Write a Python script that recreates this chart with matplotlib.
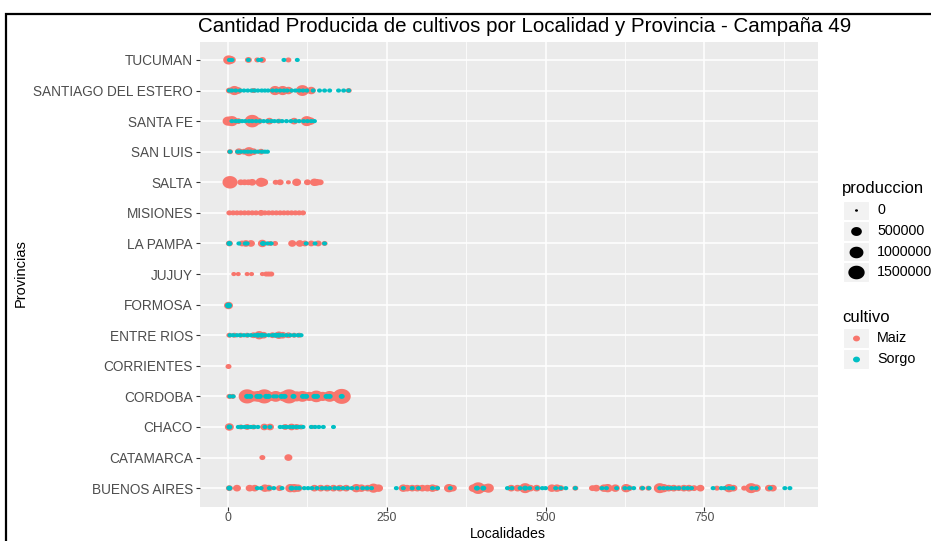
import numpy as np
import matplotlib.pyplot as plt
from matplotlib.patches import Rectangle

# Provinces (bottom to top, as ggplot orders a discrete y axis)
provincias = ["BUENOS AIRES", "CATAMARCA", "CHACO", "CORDOBA", "CORRIENTES",
              "ENTRE RIOS", "FORMOSA", "JUJUY", "LA PAMPA", "MISIONES",
              "SALTA", "SAN LUIS", "SANTA FE", "SANTIAGO DEL ESTERO", "TUCUMAN"]

# (localidad, produccion)
BUENOS_AIRES_MAIZ = [(2, 135000), (14, 211000), (34, 211000), (42, 211000), (58, 300000), (64, 211000),
                     (81, 135000), (98, 414000), (104, 414000), (110, 300000), (136, 211000), (146, 211000),
                     (156, 211000), (166, 211000), (176, 211000), (186, 211000), (202, 414000), (210, 300000),
                     (220, 211000), (229, 540000), (237, 300000), (276, 300000), (282, 211000), (290, 211000),
                     (298, 211000), (306, 211000), (314, 211000), (322, 300000), (328, 135000), (348, 414000),
                     (354, 211000), (386, 300000), (394, 1020000), (404, 300000), (410, 540000), (446, 211000),
                     (456, 211000), (468, 684000), (476, 211000), (486, 211000), (510, 300000), (518, 300000),
                     (524, 135000), (547, 76000), (574, 135000), (580, 211000), (592, 300000), (598, 414000),
                     (610, 300000), (627, 414000), (632, 135000), (652, 76000), (662, 76000), (680, 684000),
                     (686, 414000), (694, 211000), (702, 211000), (710, 135000), (718, 211000), (726, 211000),
                     (734, 135000), (744, 211000), (770, 76000), (789, 414000), (796, 211000), (813, 76000),
                     (824, 684000), (832, 300000), (852, 211000), (858, 211000)]
BUENOS_AIRES_SORGO = [(2, 76000), (46, 34000), (52, 34000), (65, 34000), (72, 34000), (85, 34000), (100, 76000),
                      (107, 34000), (112, 34000), (120, 34000), (126, 34000), (132, 34000), (140, 34000),
                      (148, 34000), (154, 34000), (160, 34000), (168, 34000), (174, 34000), (181, 34000),
                      (188, 34000), (195, 34000), (203, 34000), (212, 34000), (219, 34000), (226, 34000),
                      (265, 34000), (276, 34000), (290, 34000), (300, 34000), (322, 34000), (330, 34000),
                      (350, 34000), (392, 76000), (402, 76000), (440, 34000), (447, 34000), (460, 34000),
                      (468, 76000), (475, 34000), (487, 34000), (495, 34000), (500, 34000), (516, 34000),
                      (524, 34000), (532, 34000), (547, 34000), (589, 34000), (596, 34000), (612, 34000),
                      (625, 34000), (632, 34000), (639, 34000), (653, 34000), (663, 34000), (680, 34000),
                      (686, 34000), (692, 34000), (698, 34000), (704, 34000), (710, 34000), (718, 34000),
                      (724, 34000), (730, 34000), (764, 34000), (777, 34000), (782, 34000), (789, 34000),
                      (795, 34000), (825, 34000), (832, 34000), (854, 34000), (877, 34000), (885, 34000)]
CATAMARCA_MAIZ = [(54, 76000), (95, 211000)]
CATAMARCA_SORGO = []
CHACO_MAIZ = [(2, 304000), (20, 76000), (30, 135000), (40, 76000), (57, 211000), (66, 211000),
              (90, 135000), (100, 211000), (108, 135000), (115, 76000), (133, 34000)]
CHACO_SORGO = [(2, 76000), (16, 34000), (21, 34000), (26, 34000), (31, 34000), (36, 34000), (41, 34000),
               (47, 34000), (58, 34000), (66, 34000), (82, 34000), (87, 34000), (92, 34000), (97, 34000),
               (102, 34000), (107, 34000), (112, 34000), (118, 34000), (131, 34000), (137, 34000),
               (143, 34000), (150, 34000), (166, 34000)]
CORDOBA_MAIZ = [(2, 76000), (7, 76000), (30, 1650000), (40, 700000), (47, 844000), (57, 1650000),
                (66, 540000), (75, 844000), (88, 700000), (96, 1650000), (108, 700000), (117, 844000),
                (128, 540000), (139, 1020000), (149, 540000), (160, 844000), (170, 540000), (179, 1900000)]
CORDOBA_SORGO = [(3, 34000), (8, 34000), (30, 76000), (35, 76000), (46, 76000), (50, 76000), (60, 76000),
                 (64, 76000), (72, 34000), (76, 34000), (84, 76000), (89, 76000), (103, 76000),
                 (118, 76000), (123, 76000), (136, 76000), (140, 76000), (155, 76000), (160, 76000),
                 (179, 76000)]
CORRIENTES_MAIZ = [(0, 76000)]
CORRIENTES_SORGO = []
ENTRE_RIOS_MAIZ = [(2, 76000), (10, 76000), (20, 76000), (30, 76000), (40, 135000), (49, 414000),
                   (56, 211000), (70, 135000), (80, 304000), (86, 211000), (95, 135000), (104, 76000),
                   (112, 76000)]
ENTRE_RIOS_SORGO = [(3, 34000), (8, 34000), (14, 34000), (19, 34000), (25, 34000), (31, 34000),
                    (36, 34000), (42, 34000), (47, 76000), (53, 76000), (58, 34000), (64, 34000),
                    (70, 34000), (75, 76000), (80, 76000), (86, 34000), (92, 34000), (98, 34000),
                    (104, 34000), (110, 34000), (115, 34000)]
FORMOSA_MAIZ = [(0, 300000)]
FORMOSA_SORGO = [(0, 135000)]
JUJUY_MAIZ = [(9, 34000), (16, 34000), (30, 34000), (37, 34000), (54, 34000), (60, 76000),
              (64, 76000), (68, 76000)]
JUJUY_SORGO = []
LA_PAMPA_MAIZ = [(2, 135000), (22, 135000), (28, 211000), (36, 211000), (54, 300000), (66, 76000),
                 (74, 76000), (101, 211000), (113, 211000), (121, 135000), (131, 135000), (142, 135000),
                 (152, 76000)]
LA_PAMPA_SORGO = [(2, 76000), (17, 34000), (27, 34000), (30, 34000), (55, 76000), (62, 34000),
                  (68, 34000), (123, 34000), (137, 34000), (152, 34000)]
MISIONES_MAIZ = [(2, 76000), (8, 76000), (14, 76000), (20, 76000), (26, 76000), (32, 76000),
                 (38, 76000), (44, 76000), (52, 135000), (58, 76000), (64, 76000), (70, 76000),
                 (76, 76000), (82, 76000), (88, 76000), (94, 76000), (100, 76000), (106, 76000),
                 (112, 76000), (118, 76000)]
MISIONES_SORGO = []
SALTA_MAIZ = [(3, 1220000), (20, 135000), (26, 135000), (32, 135000), (38, 211000), (52, 540000),
              (56, 300000), (75, 76000), (82, 135000), (95, 34000), (108, 300000), (125, 135000),
              (136, 300000), (140, 211000), (145, 135000)]
SALTA_SORGO = []
SAN_LUIS_MAIZ = [(3, 76000), (17, 211000), (25, 135000), (33, 540000), (40, 211000), (52, 135000)]
SAN_LUIS_SORGO = [(3, 34000), (15, 34000), (20, 34000), (26, 34000), (31, 34000), (36, 34000),
                  (42, 34000), (47, 34000), (53, 34000), (58, 34000), (62, 34000)]
SANTA_FE_MAIZ = [(0, 540000), (6, 700000), (16, 135000), (38, 1220000), (48, 211000), (65, 211000),
                 (80, 76000), (104, 211000), (124, 684000), (130, 300000)]
SANTA_FE_SORGO = [(6, 34000), (12, 34000), (17, 34000), (22, 34000), (27, 34000), (33, 34000),
                  (38, 34000), (44, 34000), (50, 34000), (56, 34000), (62, 34000), (68, 34000),
                  (73, 34000), (79, 34000), (85, 34000), (92, 34000), (99, 34000), (106, 34000),
                  (112, 34000), (119, 34000), (125, 34000), (131, 34000), (136, 34000)]
SANTIAGO_MAIZ = [(2, 135000), (10, 540000), (16, 211000), (40, 76000), (74, 540000), (86, 540000),
                 (95, 304000), (117, 844000), (131, 304000), (190, 76000)]
SANTIAGO_SORGO = [(2, 34000), (6, 34000), (12, 34000), (19, 34000), (25, 34000), (31, 34000),
                  (37, 34000), (42, 34000), (47, 34000), (53, 34000), (58, 34000), (63, 34000),
                  (70, 34000), (76, 34000), (82, 34000), (88, 34000), (93, 34000), (100, 34000),
                  (106, 34000), (112, 34000), (118, 34000), (124, 34000), (134, 34000), (144, 34000),
                  (152, 34000), (160, 34000), (174, 34000), (182, 34000), (190, 34000)]
TUCUMAN_MAIZ = [(1, 540000), (5, 300000), (32, 135000), (46, 76000), (54, 135000), (95, 76000)]
TUCUMAN_SORGO = [(2, 34000), (6, 34000), (32, 34000), (48, 34000), (52, 20000), (88, 34000), (109, 34000)]

legend_breaks = [0, 500000, 1000000, 1500000]
cultivos = ["Maiz", "Sorgo"]
colores = {"Maiz": "#F8766D", "Sorgo": "#00BFC4"}

maiz = [BUENOS_AIRES_MAIZ, CATAMARCA_MAIZ, CHACO_MAIZ, CORDOBA_MAIZ, CORRIENTES_MAIZ, ENTRE_RIOS_MAIZ,
        FORMOSA_MAIZ, JUJUY_MAIZ, LA_PAMPA_MAIZ, MISIONES_MAIZ, SALTA_MAIZ, SAN_LUIS_MAIZ,
        SANTA_FE_MAIZ, SANTIAGO_MAIZ, TUCUMAN_MAIZ]
sorgo = [BUENOS_AIRES_SORGO, CATAMARCA_SORGO, CHACO_SORGO, CORDOBA_SORGO, CORRIENTES_SORGO,
         ENTRE_RIOS_SORGO, FORMOSA_SORGO, JUJUY_SORGO, LA_PAMPA_SORGO, MISIONES_SORGO, SALTA_SORGO,
         SAN_LUIS_SORGO, SANTA_FE_SORGO, SANTIAGO_SORGO, TUCUMAN_SORGO]

P_MAX = 1.9e6
W, H = 931, 541
plt.rcParams['font.family'] = ['Liberation Sans', 'DejaVu Sans']

# ggplot-like area scale: diameter 1..6 "mm" (3..18 px here)
def marker_area(p):
    d_px = 3 + 15 * np.sqrt(np.asarray(p, dtype=float) / P_MAX)
    return (d_px * 0.72) ** 2

# the screenshot is a bit stretched horizontally, so points are slightly wide ellipses
theta = np.linspace(0, 2 * np.pi, 60)
ELLIPSE = np.column_stack([1.2 * np.cos(theta), np.sin(theta)])

def fx(px):
    return px / W

def fy(py):
    return 1 - py / H

fig = plt.figure(figsize=(W / 100, H / 100), dpi=100)
ax = fig.add_axes([fx(200), fy(506.5), (818 - 200) / W, (506.5 - 41.6) / H])
ax.set_facecolor('#EBEBEB')

for rows, cult in [(maiz, "Maiz"), (sorgo, "Sorgo")]:
    for i, pts in enumerate(rows):
        if not pts:
            continue
        loc = [p[0] for p in pts]
        prod = [p[1] for p in pts]
        ax.scatter(loc, [i] * len(loc), s=marker_area(prod), marker=ELLIPSE,
                   color=colores[cult], linewidths=0, zorder=3)

all_x = [p[0] for rows in (maiz, sorgo) for pts in rows for p in pts]
lo, hi = min(all_x), max(all_x)
ax.set_xlim(lo - 0.05 * (hi - lo), hi + 0.05 * (hi - lo))
ax.set_ylim(-0.6, len(provincias) - 0.4)

ax.set_xticks([0, 250, 500, 750])
ax.set_xticks([125, 375, 625, 875], minor=True)
ax.set_yticks(range(len(provincias)))
ax.set_yticklabels(provincias)
ax.grid(True, which='major', color='white', linewidth=1.1, zorder=0)
ax.grid(True, which='minor', axis='x', color='white', linewidth=0.55, zorder=0)
ax.set_axisbelow(True)
for sp in ax.spines.values():
    sp.set_visible(False)
ax.tick_params(axis='both', which='major', length=3.2, width=0.8, color='#333333',
               labelcolor='#4D4D4D', pad=2)
ax.tick_params(axis='y', labelsize=9.8)
ax.tick_params(axis='x', labelsize=8.8, pad=1)
ax.tick_params(axis='both', which='minor', length=0)

# axis titles and title placed as in the screenshot
fig.text(fx(508), fy(538), 'Localidades', fontsize=10.2, ha='center', va='baseline')
fig.text(fx(21), fy(273), 'Provincias', fontsize=10.5, ha='center', va='center', rotation=90)
fig.text(fx(198), fy(27), 'Cantidad Producida de cultivos por Localidad y Provincia - Campaña 49',
         fontsize=14.8, ha='left', va='center')

# legend: produccion
fig.text(fx(842), fy(188), 'produccion', fontsize=12, ha='left', va='center')
key_tops = [201, 221, 242, 262]
key_h = [19, 20, 19, 20]
for b, top, h in zip(legend_breaks, key_tops, key_h):
    fig.patches.append(Rectangle((fx(843), fy(top + h)), 26 / W, h / H, transform=fig.transFigure,
                                 facecolor='#F2F2F2', edgecolor='white', linewidth=0.8))
    fig.add_artist(plt.Line2D([fx(856)], [fy(top + h / 2)], transform=fig.transFigure, linestyle='none',
                              marker=ELLIPSE, markersize=np.sqrt(marker_area(b)), color='black',
                              markeredgewidth=0))
    fig.text(fx(877), fy(top + h / 2), str(b), fontsize=10.3, ha='left', va='center', color='black')

# legend: cultivo
fig.text(fx(842), fy(317), 'cultivo', fontsize=12, ha='left', va='center')
for cult, top in zip(cultivos, [328, 349]):
    fig.patches.append(Rectangle((fx(843), fy(top + 20)), 26 / W, 20 / H, transform=fig.transFigure,
                                 facecolor='#F2F2F2', edgecolor='white', linewidth=0.8))
    fig.add_artist(plt.Line2D([fx(856)], [fy(top + 10)], transform=fig.transFigure, linestyle='none',
                              marker=ELLIPSE, markersize=5, color=colores[cult], markeredgewidth=0))
    fig.text(fx(877), fy(top + 10), cult, fontsize=10.3, ha='left', va='center', color='black')

# frame of the screenshot
fig.patches.append(Rectangle((fx(6), -0.1), 1.2, fy(14) + 0.1, transform=fig.transFigure,
                             fill=False, edgecolor='black', linewidth=1.6))

fig.savefig('out.png', dpi=100)
